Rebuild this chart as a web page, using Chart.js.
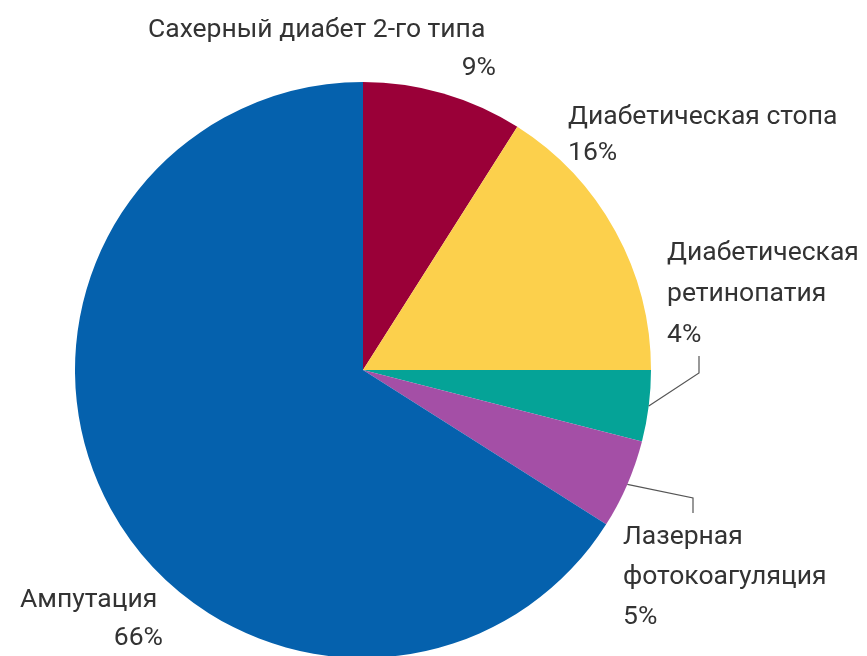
<!DOCTYPE html>
<html>
<head>
<meta charset="utf-8">
<script src="https://cdn.jsdelivr.net/npm/chart.js@4"></script>
<style>
  html, body { margin: 0; padding: 0; background: #ffffff; overflow: hidden; }
  #wrap { position: relative; width: 867px; height: 700px; }
</style>
</head>
<body>
<div id="wrap"><canvas id="c"></canvas></div>
<script>
// Осложнения: доли, %
const categories = [
  'Сахерный диабет 2-го типа',
  'Диабетическая стопа',
  'Диабетическая ретинопатия',
  'Лазерная фотокоагуляция',
  'Ампутация'
];
const shares = [9, 16, 4, 5, 66];
const colors = ['#9a0038', '#fcd04c', '#05a397', '#a44fa6', '#0561ad'];

// Label text lines for each slice
const labelLines = [
  ['Сахерный диабет 2-го типа'],
  ['Диабетическая стопа'],
  ['Диабетическая', 'ретинопатия'],
  ['Лазерная', 'фотокоагуляция'],
  ['Ампутация']
];

// Placement of each label block: x, y of first line, alignment of the value line
const labelPlacement = [
  { x: 148, y: 30, valueX: 496, valueAlign: 'right', gap: 38 },
  { x: 568, y: 117, valueX: 568, valueAlign: 'left', gap: 36 },
  { x: 667, y: 253, valueX: 667, valueAlign: 'left', gap: 41 },
  { x: 623, y: 537, valueX: 623, valueAlign: 'left', gap: 40 },
  { x: 20, y: 600, valueX: 163, valueAlign: 'right', gap: 38 }
];

// Leader lines: elbow point and end point, starting from the slice edge
const leaders = {
  2: [[699, 373], [699, 356]],
  3: [[693, 498], [693, 513]]
};

const labelPlugin = {
  id: 'sliceLabels',
  afterDatasetsDraw(chart) {
    const ctx = chart.ctx;
    const meta = chart.getDatasetMeta(0);
    ctx.save();
    // leader lines from the middle of each slice's outer edge
    ctx.strokeStyle = '#555';
    ctx.lineWidth = 1.2;
    Object.keys(leaders).forEach(k => {
      const arc = meta.data[+k];
      const mid = (arc.startAngle + arc.endAngle) / 2;
      const sx = arc.x + Math.cos(mid) * arc.outerRadius;
      const sy = arc.y + Math.sin(mid) * arc.outerRadius;
      ctx.beginPath();
      ctx.moveTo(sx, sy);
      leaders[k].forEach(p => ctx.lineTo(p[0], p[1]));
      ctx.stroke();
    });
    // text
    ctx.fillStyle = '#333333';
    ctx.font = '26.5px Roboto';
    ctx.textBaseline = 'middle';
    labelLines.forEach((lines, i) => {
      const p = labelPlacement[i];
      let y = p.y;
      ctx.textAlign = 'left';
      lines.forEach((t, j) => {
        ctx.fillText(t, p.x, y);
        y += p.gap;
      });
      ctx.textAlign = p.valueAlign;
      ctx.fillText(shares[i] + '%', p.valueX, y);
    });
    ctx.restore();
  }
};

new Chart(document.getElementById('c'), {
  type: 'pie',
  data: {
    labels: categories,
    datasets: [{
      data: shares,
      backgroundColor: colors,
      borderWidth: 0
    }]
  },
  options: {
    responsive: true,
    maintainAspectRatio: false,
    animation: false,
    layout: { padding: { left: 75, right: 216, top: 82, bottom: 42 } },
    plugins: {
      legend: { display: false },
      tooltip: { enabled: false }
    }
  },
  plugins: [labelPlugin]
});
</script>
</body>
</html>
